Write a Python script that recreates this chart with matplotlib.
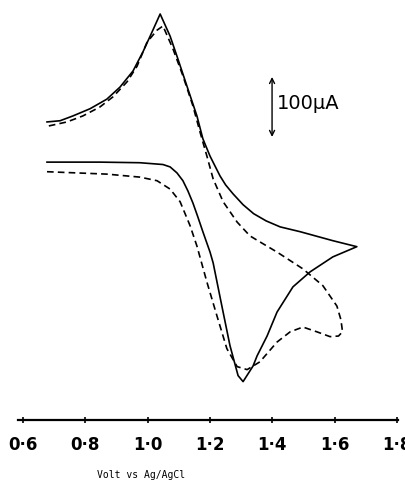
import matplotlib.pyplot as plt

# solid voltammogram (V vs Ag/AgCl, current in uA)
solid_v = [0.677, 0.847, 0.975, 1.049, 1.072, 1.094, 1.113, 1.129, 1.145, 1.160,
           1.177, 1.200, 1.210, 1.238, 1.264, 1.290, 1.306, 1.338, 1.351, 1.383,
           1.415, 1.466, 1.521, 1.594, 1.671,
           1.594, 1.489, 1.425, 1.380, 1.340, 1.306, 1.274, 1.250, 1.232, 1.200,
           1.177, 1.158, 1.129, 1.097, 1.072, 1.040, 1.014, 0.985, 0.953, 0.911,
           0.869, 0.815, 0.760, 0.719, 0.677]
solid_i = [-2, -2, -3, -6, -10, -20, -33, -50, -70, -92,
           -118, -152, -170, -242, -308, -358, -368, -342, -325, -292,
           -252, -210, -185, -160, -143,
           -133, -118, -110, -100, -88, -73, -55, -40, -25, 8,
           37, 75, 120, 170, 208, 245, 215, 182, 150, 123,
           103, 87, 75, 67, 65]

# dashed voltammogram
dash_v = [0.677, 0.869, 0.975, 1.030, 1.072, 1.104, 1.136, 1.158, 1.190, 1.222,
          1.254, 1.287, 1.319, 1.360, 1.415, 1.457, 1.498, 1.543, 1.585, 1.612,
          1.625, 1.620, 1.607, 1.562, 1.498, 1.415, 1.360, 1.328, 1.287, 1.242,
          1.210, 1.190, 1.168, 1.145, 1.113, 1.081, 1.049, 1.030, 0.998, 0.966,
          0.934, 0.889, 0.847, 0.792, 0.741, 0.680]
dash_i = [-18, -22, -27, -33, -47, -68, -108, -142, -202, -258,
          -313, -343, -348, -335, -302, -285, -277, -285, -293, -292,
          -285, -265, -242, -208, -180, -152, -135, -125, -102, -68,
          -30, 8, 48, 92, 142, 187, 225, 218, 198, 158,
          132, 107, 90, 75, 65, 58]

ticks = [0.6, 0.8, 1.0, 1.2, 1.4, 1.6, 1.8]
tick_labels = ["0·6", "0·8", "1·0", "1·2", "1·4", "1·6", "1·8"]

fig = plt.figure(figsize=(4.06, 4.89), dpi=100)
ax = fig.add_axes([18 / 406, 68 / 489, 380 / 406, 421 / 489])

ax.plot(solid_v, solid_i, color="black", lw=1.2, solid_joinstyle="round")
ax.plot(dash_v, dash_i, color="black", lw=1.2, ls=(0, (4, 2.5)),
        dash_joinstyle="round")

# scale bar
ax.annotate("", xy=(1.399, 140), xytext=(1.399, 40),
            arrowprops=dict(arrowstyle="<->", color="black", lw=1.0,
                            mutation_scale=9, shrinkA=0, shrinkB=0))
ax.text(1.413, 97, "100μA", fontsize=14, va="center", ha="left",
        family="DejaVu Sans")

ax.set_xlim(0.584, 1.803)
ax.set_ylim(-432, 270)

for s in ["left", "top", "right"]:
    ax.spines[s].set_visible(False)
ax.spines["bottom"].set_linewidth(1.6)
ax.set_yticks([])
ax.set_xticks(ticks)
ax.set_xticklabels(tick_labels, fontsize=12, fontweight="bold")
ax.tick_params(axis="x", direction="inout", length=5, width=1.2, pad=8)

fig.text(97 / 406, 1 - 475 / 489, "Volt vs Ag/AgCl", fontsize=7,
         family="DejaVu Sans Mono", va="center", ha="left")

fig.savefig("out.png", dpi=100)
